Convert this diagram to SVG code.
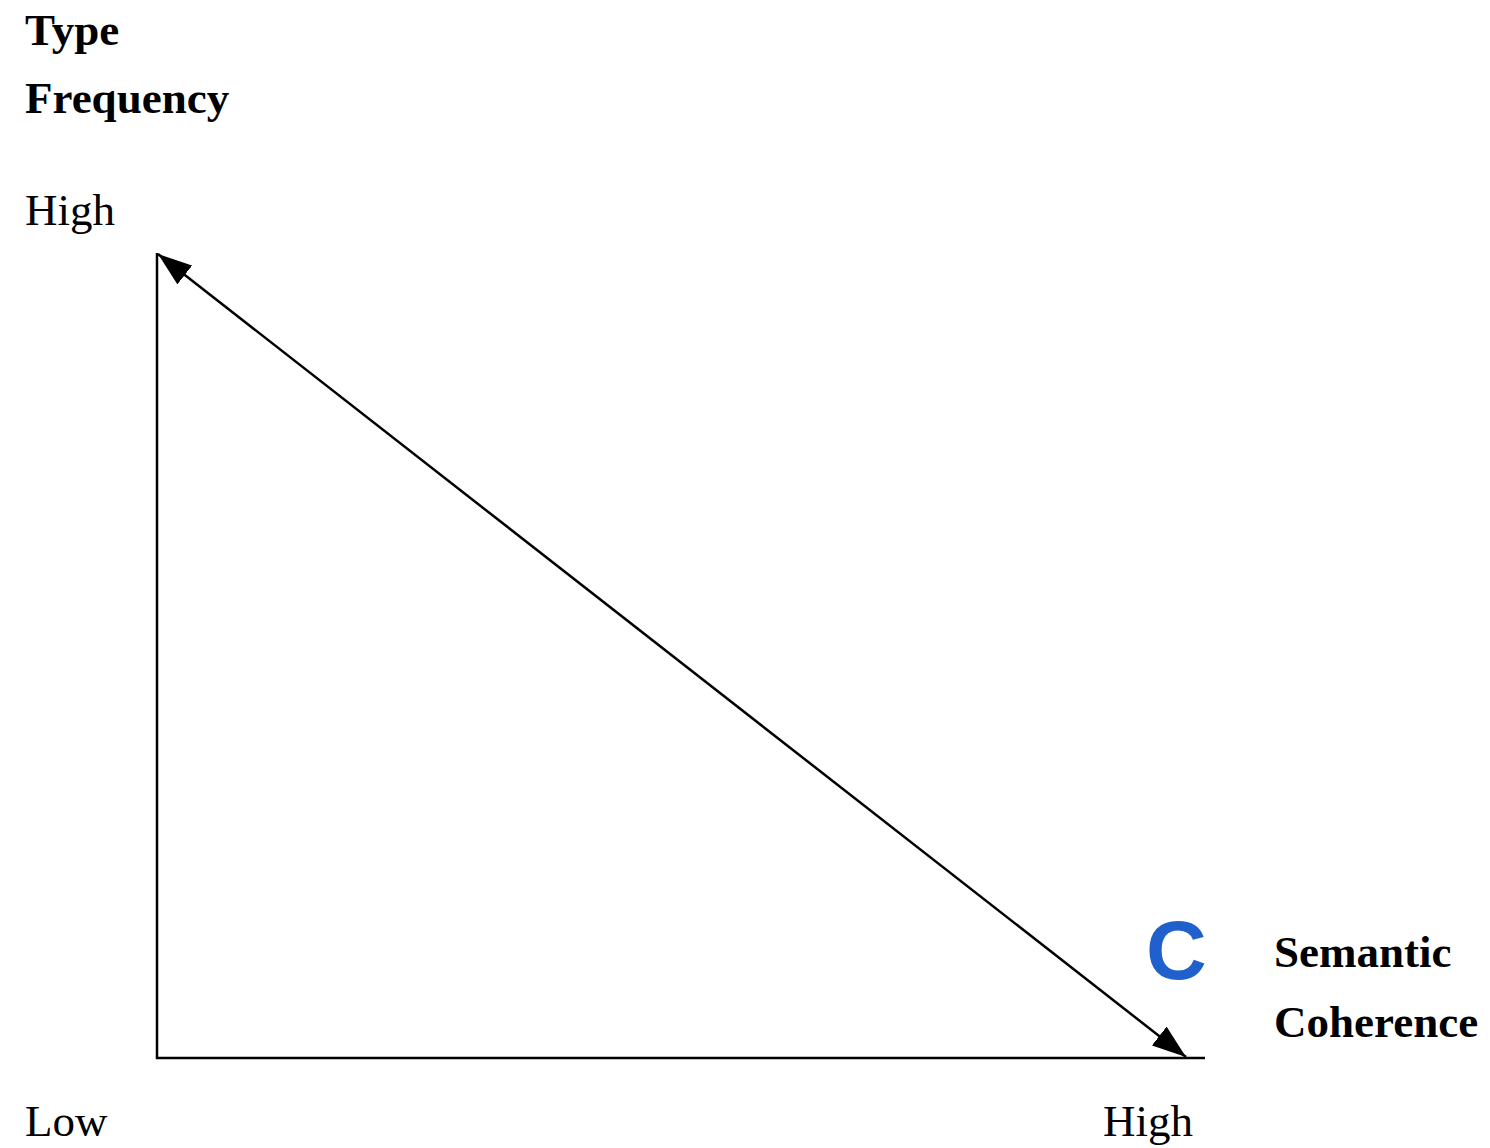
<svg xmlns="http://www.w3.org/2000/svg" width="1490" height="1148" viewBox="0 0 1490 1148">
<style>
.t{font-family:"Liberation Serif","Times New Roman",serif;font-size:45px;fill:#000}
.b{font-weight:bold}
.ax{stroke:#000;stroke-width:2.5;fill:none}
</style>
<defs>
<marker id="ah" viewBox="0 0 34 24" refX="34" refY="12" markerWidth="34" markerHeight="24" markerUnits="userSpaceOnUse" orient="auto-start-reverse">
<path d="M0,0 L34,12 L0,24 Z" fill="#000"/>
</marker>
</defs>
<rect width="1490" height="1148" fill="#fff"/>
<g id="connectors">
<path class="ax" d="M157,253 L157,1058 L1205,1058"/>
<line class="ax" x1="158" y1="254" x2="1186" y2="1057" marker-start="url(#ah)" marker-end="url(#ah)"/>
</g>
<g id="y-label"><text class="t b" x="25" y="45">Type</text><text class="t b" x="25" y="113">Frequency</text></g>
<g id="y-high"><text class="t" x="25" y="225">High</text></g>
<g id="x-low"><text class="t" x="25" y="1136">Low</text></g>
<g id="x-high"><text class="t" x="1103" y="1136">High</text></g>
<g id="x-label"><text class="t b" x="1274" y="967">Semantic</text><text class="t b" x="1274" y="1037">Coherence</text></g>
<g id="c-mark"><text x="1146" y="979" font-family="Liberation Sans, Arial, sans-serif" font-weight="bold" font-size="84" fill="#1f60cc">C</text></g>
</svg>
